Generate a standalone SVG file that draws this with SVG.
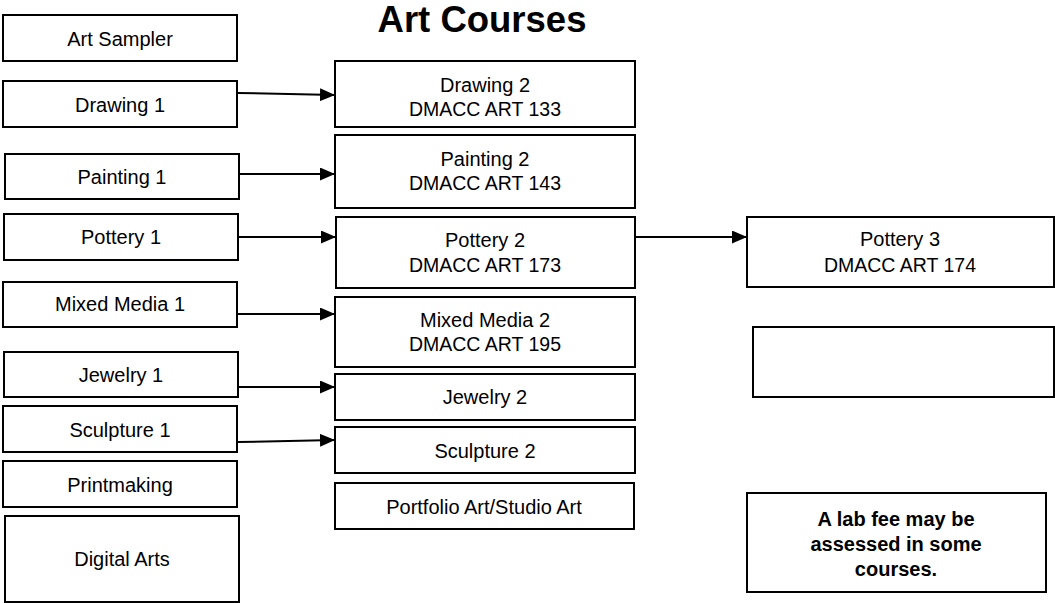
<svg xmlns="http://www.w3.org/2000/svg" width="1055" height="603" viewBox="0 0 1055 603">
<style>
rect{fill:#fff;stroke:#000;stroke-width:2}
text{font-family:"Liberation Sans",Arial,sans-serif;font-size:20px;fill:#000;text-anchor:middle}
.c{font-size:19.5px}
.b{font-weight:bold}
.t{font-weight:bold;font-size:36.5px}
.ln{stroke:#000;stroke-width:2;fill:none}
</style>
<defs>
<marker id="ah" markerWidth="15" markerHeight="13" refX="15" refY="6.5" orient="auto" markerUnits="userSpaceOnUse">
<path d="M0,0 L15,6.5 L0,13 Z" fill="#000"/>
</marker>
</defs>
<text class="t" x="482" y="32">Art Courses</text>
<g id="art-sampler"><rect x="3" y="15" width="234" height="46"/><text x="120" y="46">Art Sampler</text></g>
<g id="drawing-1"><rect x="3" y="81" width="234" height="46"/><text x="120" y="112">Drawing 1</text></g>
<g id="painting-1"><rect x="5" y="154" width="234" height="45"/><text x="122" y="184">Painting 1</text></g>
<g id="pottery-1"><rect x="4" y="214" width="234" height="46"/><text x="121" y="244">Pottery 1</text></g>
<g id="mixed-media-1"><rect x="3" y="282" width="234" height="45"/><text x="120" y="311">Mixed Media 1</text></g>
<g id="jewelry-1"><rect x="4" y="352" width="234" height="45"/><text x="121" y="382">Jewelry 1</text></g>
<g id="sculpture-1"><rect x="3" y="406" width="234" height="46"/><text x="120" y="437">Sculpture 1</text></g>
<g id="printmaking"><rect x="3" y="461" width="234" height="46"/><text x="120" y="492">Printmaking</text></g>
<g id="digital-arts"><rect x="5" y="516" width="234" height="86"/><text x="122" y="566">Digital Arts</text></g>
<g id="drawing-2"><rect x="335" y="61" width="300" height="66"/><text x="485" y="92">Drawing 2</text><text class="c" x="485" y="116">DMACC ART 133</text></g>
<g id="painting-2"><rect x="335" y="135" width="300" height="73"/><text x="485" y="166">Painting 2</text><text class="c" x="485" y="190">DMACC ART 143</text></g>
<g id="pottery-2"><rect x="336" y="217" width="299" height="71"/><text x="485" y="247">Pottery 2</text><text class="c" x="485" y="272">DMACC ART 173</text></g>
<g id="mixed-media-2"><rect x="335" y="297" width="300" height="70"/><text x="485" y="327">Mixed Media 2</text><text class="c" x="485" y="351">DMACC ART 195</text></g>
<g id="jewelry-2"><rect x="335" y="374" width="300" height="46"/><text x="485" y="404">Jewelry 2</text></g>
<g id="sculpture-2"><rect x="335" y="427" width="300" height="46"/><text x="485" y="458">Sculpture 2</text></g>
<g id="portfolio"><rect x="335" y="483" width="299" height="46"/><text x="484" y="514">Portfolio Art/Studio Art</text></g>
<g id="pottery-3"><rect x="747" y="217" width="307" height="70"/><text x="900" y="246">Pottery 3</text><text class="c" x="900" y="272">DMACC ART 174</text></g>
<g id="empty-box"><rect x="753" y="327" width="301" height="70"/></g>
<g id="lab-fee"><rect x="747" y="493" width="299" height="99"/><text class="b" x="896" y="526">A lab fee may be</text><text class="b" x="896" y="551">assessed in some</text><text class="b" x="896" y="576">courses.</text></g>
<g id="connectors">
<line class="ln" x1="238" y1="93" x2="335" y2="95" marker-end="url(#ah)"/>
<line class="ln" x1="240" y1="174" x2="335" y2="174" marker-end="url(#ah)"/>
<line class="ln" x1="239" y1="237" x2="336" y2="237" marker-end="url(#ah)"/>
<line class="ln" x1="238" y1="314" x2="335" y2="314" marker-end="url(#ah)"/>
<line class="ln" x1="239" y1="387" x2="335" y2="387" marker-end="url(#ah)"/>
<line class="ln" x1="238" y1="442" x2="335" y2="440" marker-end="url(#ah)"/>
<line class="ln" x1="636" y1="237" x2="747" y2="237" marker-end="url(#ah)"/>
</g>
</svg>
